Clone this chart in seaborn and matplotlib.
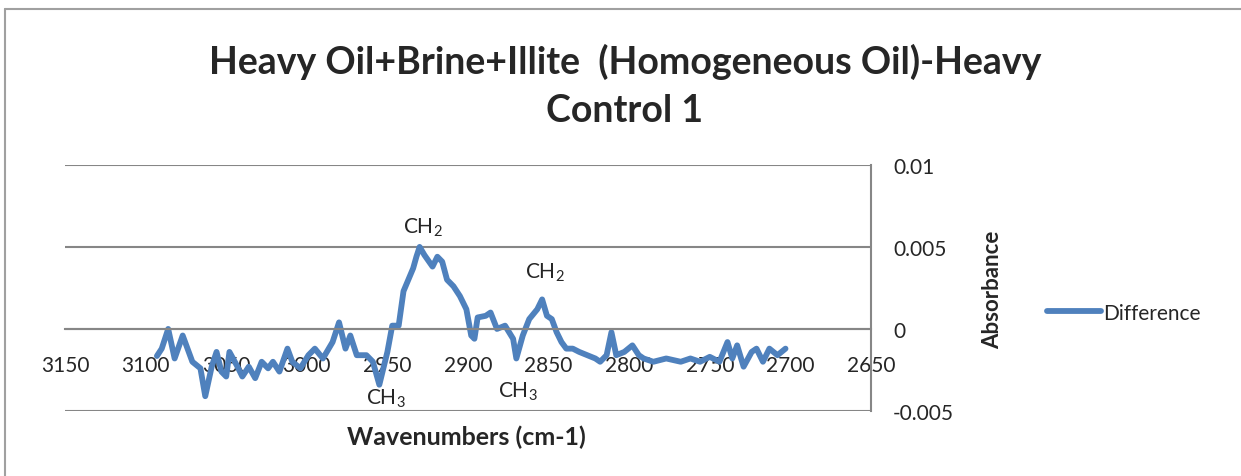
import numpy as np
import pandas as pd
import seaborn as sns
import matplotlib.pyplot as plt
from matplotlib.lines import Line2D

# Difference spectrum
wavenumber = [3093, 3090, 3086, 3082, 3077, 3071, 3066, 3063, 3059, 3056,
              3053, 3050, 3048, 3043, 3040, 3036, 3032, 3028, 3024, 3021,
              3017, 3012, 3009, 3004, 2999, 2995, 2990, 2984, 2980, 2976,
              2973, 2969, 2963, 2959, 2955, 2950, 2947, 2943, 2940, 2937,
              2934, 2932, 2930, 2927, 2922, 2919, 2916, 2913, 2909, 2905,
              2901, 2898, 2896, 2894, 2889, 2886, 2882, 2877, 2872, 2870,
              2866, 2862, 2857, 2854, 2851, 2848, 2845, 2842, 2839, 2835,
              2831, 2826, 2821, 2818, 2814, 2811, 2808, 2803, 2798, 2794,
              2791, 2785, 2777, 2768, 2762, 2756, 2750, 2744, 2739, 2736,
              2733, 2729, 2724, 2721, 2717, 2713, 2708, 2703]
absorbance = [-0.00165, -0.0012, 0.0, -0.0018, -0.0004, -0.0020, -0.0024, -0.0041, -0.0023, -0.0014,
              -0.0026, -0.0029, -0.0014, -0.0023, -0.0029, -0.0023, -0.0030, -0.0020, -0.0024, -0.0020,
              -0.0026, -0.0012, -0.0020, -0.0024, -0.0016, -0.0012, -0.0018, -0.0008, 0.0004, -0.0012,
              -0.0004, -0.0016, -0.0016, -0.0020, -0.0034, -0.0014, 0.0002, 0.0002, 0.0023, 0.0030,
              0.0037, 0.0044, 0.0050, 0.0045, 0.0038, 0.0044, 0.0041, 0.0030, 0.0026, 0.0020,
              0.0012, -0.0004, -0.0006, 0.0007, 0.0008, 0.0010, 0.0, 0.0002, -0.0006, -0.0018,
              -0.0004, 0.0006, 0.0012, 0.0018, 0.0008, 0.0006, -0.0002, -0.0008, -0.0012, -0.0012,
              -0.0014, -0.0016, -0.0018, -0.0020, -0.0016, -0.0002, -0.0016, -0.0014, -0.0010, -0.0016,
              -0.0018, -0.0020, -0.0018, -0.0020, -0.0018, -0.0020, -0.0017, -0.0020, -0.0008, -0.0018,
              -0.0010, -0.0023, -0.0014, -0.0012, -0.0020, -0.0012, -0.0016, -0.0012]

x_ticks = [3150, 3100, 3050, 3000, 2950, 2900, 2850, 2800, 2750, 2700, 2650]
y_ticks = [-0.005, 0, 0.005, 0.01]
y_tick_labels = ["-0.005", "0", "0.005", "0.01"]

# peak labels: (text, wavenumber, absorbance)
peak_labels = [("CH$_2$", 2928, 0.0062), ("CH$_2$", 2852, 0.0035),
               ("CH$_3$", 2951, -0.0042), ("CH$_3$", 2869, -0.0038)]

df = pd.DataFrame({"Wavenumbers": wavenumber, "Difference": absorbance})

sns.set_style("white")
plt.rcParams['font.family'] = ['Lato', 'DejaVu Sans']
plt.rcParams['mathtext.default'] = 'regular'

grid_col = "#868686"
line_col = "#4F81BD"

fig = plt.figure(figsize=(12.41, 4.77), dpi=100)
ax = fig.add_axes([0.0524, 0.1363, 0.6494, 0.516])

sns.lineplot(data=df, x="Wavenumbers", y="Difference", ax=ax, color=line_col,
             linewidth=4.2, label="Difference")

# y axis on the right, x axis crossing at zero
ax.spines['bottom'].set_position(('data', 0))
ax.spines['bottom'].set_color(grid_col)
ax.spines['bottom'].set_linewidth(1.5)
ax.spines['right'].set_color(grid_col)
ax.spines['right'].set_linewidth(1.5)
ax.spines['left'].set_visible(False)
ax.spines['top'].set_visible(False)

ax.set_xlim(3150, 2650)
ax.set_ylim(-0.005, 0.01)
ax.set_xticks(x_ticks)
ax.set_xticklabels([str(t) for t in x_ticks])
ax.yaxis.tick_right()
ax.set_yticks(y_ticks)
ax.set_yticklabels(y_tick_labels)

ax.tick_params(axis='y', length=0, pad=16, labelsize=15)
ax.tick_params(axis='x', direction='inout', length=14, width=1.2, color=grid_col,
               pad=12, labelsize=15)
ax.yaxis.grid(True, color=grid_col, linewidth=1.5)
ax.set_axisbelow(True)

ax.set_xlabel("Wavenumbers (cm-1)", fontsize=18, fontweight='bold')
ax.xaxis.set_label_coords(0.4975, -0.102)
ax.xaxis.label.set_va('center')
ax.yaxis.set_label_position('right')
ax.set_ylabel("Absorbance", fontsize=16, fontweight='bold', rotation=90)
ax.yaxis.set_label_coords(1.151, 0.496)
ax.yaxis.label.set_va('center')

for txt, wx, wy in peak_labels:
    ax.text(wx, wy, txt, fontsize=15, ha='center', va='center')

ax.legend(loc='center left', bbox_to_anchor=(1.195, 0.40), frameon=False,
          fontsize=15, handlelength=2.6, handletextpad=0.1)

fig.text(0.5036, 0.82, "Heavy Oil+Brine+Illite  (Homogeneous Oil)-Heavy\nControl 1",
         ha='center', va='center', fontsize=27, fontweight='bold', linespacing=1.5)

# outer chart border (left and top edges visible)
fig.add_artist(Line2D([0.004, 0.004], [0.0, 0.979], color="#a0a0a0", linewidth=1.5))
fig.add_artist(Line2D([0.004, 1.0], [0.979, 0.979], color="#a0a0a0", linewidth=1.5))

fig.savefig("out.png", dpi=100)
